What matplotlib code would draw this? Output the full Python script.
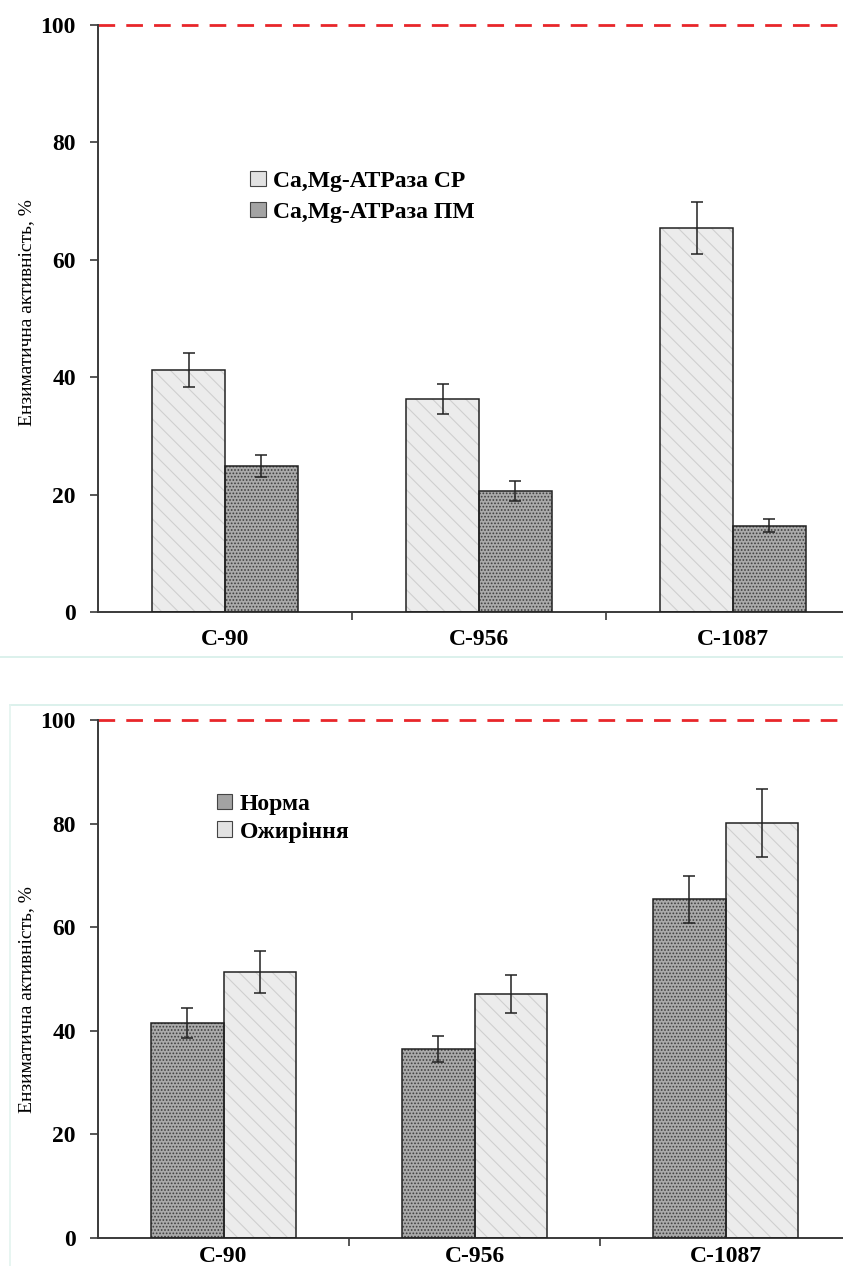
import numpy as np
import matplotlib.pyplot as plt
from matplotlib.patches import Patch
from matplotlib.lines import Line2D

# Дані
categories = ['C-90', 'C-956', 'C-1087']

sr_vals = [41.3, 36.3, 65.4]
sr_err = [2.9, 2.5, 4.4]
pm_vals = [24.9, 20.6, 14.7]
pm_err = [1.9, 1.7, 1.1]

norm_vals = [41.5, 36.5, 65.4]
norm_err = [2.9, 2.5, 4.5]
obes_vals = [51.4, 47.1, 80.1]
obes_err = [4.1, 3.7, 6.6]

top_labels = ['Ca,Mg-АТРаза СР', 'Ca,Mg-АТРаза ПМ']
bottom_labels = ['Норма', 'Ожиріння']
ylabel = 'Ензиматична активність, %'

# Стилі заливки
MARBLE = dict(face='#ececec', hatch='\\\\', hcolor='#cfcfcf', legend='#e2e2e2')
GRANITE = dict(face='#aaaaaa', hatch='.....', hcolor='#3f3f3f', legend='#a3a3a3')

plt.rcParams['font.family'] = ['Liberation Serif', 'DejaVu Serif']
plt.rcParams['hatch.linewidth'] = 0.8

fig = plt.figure(figsize=(8.43, 12.66), dpi=100)
W, H = 843, 1266


def add_axes(left, right, top, bottom):
    return fig.add_axes([left / W, 1 - bottom / H, (right - left) / W, (bottom - top) / H])


def draw_bars(ax, x, vals, errs, style):
    ax.bar(x, vals, width=0.287, color=style['face'], hatch=style['hatch'],
           edgecolor=style['hcolor'], linewidth=0, zorder=2)
    ax.bar(x, vals, width=0.287, fill=False, edgecolor='#222222', linewidth=1.1, zorder=3)
    ax.errorbar(x, vals, yerr=errs, fmt='none', ecolor='#222222', elinewidth=1.1,
                capsize=4, capthick=1.1, zorder=4)


def style_axes(ax, label_y, xpad):
    ax.set_xlim(-0.5, 2.5)
    ax.set_ylim(0, 100)
    for s in ['top', 'right']:
        ax.spines[s].set_visible(False)
    for s in ['left', 'bottom']:
        ax.spines[s].set_color('#3a3a3a')
        ax.spines[s].set_linewidth(1.4)
    ax.set_yticks([0, 20, 40, 60, 80, 100])
    ax.tick_params(axis='y', direction='out', length=6, width=1.2, color='#3a3a3a',
                   pad=10, labelsize=17)
    for t in ax.get_yticklabels():
        t.set_fontweight('bold')
    ax.set_xticks(range(len(categories)))
    ax.set_xticklabels(categories, fontsize=17, fontweight='bold')
    ax.set_xticks([0.5, 1.5], minor=True)
    ax.tick_params(axis='x', which='major', length=0, pad=xpad)
    ax.tick_params(axis='x', which='minor', direction='out', length=6, width=1.2,
                   color='#3a3a3a')
    ax.axhline(100, color='#e8262a', linestyle=(0, (6, 4)), linewidth=2, clip_on=False,
               zorder=1)
    ax.set_ylabel(ylabel, fontsize=14)
    ax.yaxis.set_label_coords(-0.083, label_y)


x = np.arange(len(categories))
off = 0.1435

# Верхній графік
ax1 = add_axes(98, 860, 25, 612)
draw_bars(ax1, x - off, sr_vals, sr_err, MARBLE)
draw_bars(ax1, x + off, pm_vals, pm_err, GRANITE)
style_axes(ax1, 0.51, 12)
h1 = [Patch(facecolor=MARBLE['legend'], edgecolor='#444444', linewidth=0.8),
      Patch(facecolor=GRANITE['legend'], edgecolor='#444444', linewidth=0.8)]
ax1.legend(h1, top_labels, loc='upper left', bbox_to_anchor=(0.2, 0.752),
           frameon=False, handlelength=0.65, handleheight=0.65, handletextpad=0.3,
           labelspacing=0.42, borderpad=0, borderaxespad=0,
           prop={'size': 17, 'weight': 'bold'})

# Нижній графік
ax2 = add_axes(98, 851, 720, 1238)
draw_bars(ax2, x - off, norm_vals, norm_err, GRANITE)
draw_bars(ax2, x + off, obes_vals, obes_err, MARBLE)
style_axes(ax2, 0.46, 6)
h2 = [Patch(facecolor=GRANITE['legend'], edgecolor='#444444', linewidth=0.8),
      Patch(facecolor=MARBLE['legend'], edgecolor='#444444', linewidth=0.8)]
ax2.legend(h2, bottom_labels, loc='upper left', bbox_to_anchor=(0.158, 0.858),
           frameon=False, handlelength=0.65, handleheight=0.65, handletextpad=0.3,
           labelspacing=0.28, borderpad=0, borderaxespad=0,
           prop={'size': 17, 'weight': 'bold'})

# Тонкі рамки зображень
fig.add_artist(Line2D([0, 1], [1 - 657 / H, 1 - 657 / H], color='#d5efe9', linewidth=1.2))
fig.add_artist(Line2D([10 / W, 1], [1 - 705 / H, 1 - 705 / H], color='#d5efe9', linewidth=1.2))
fig.add_artist(Line2D([10 / W, 10 / W], [1 - 705 / H, 0], color='#e3f3ef', linewidth=1.2))

fig.savefig('out.png', dpi=100)
